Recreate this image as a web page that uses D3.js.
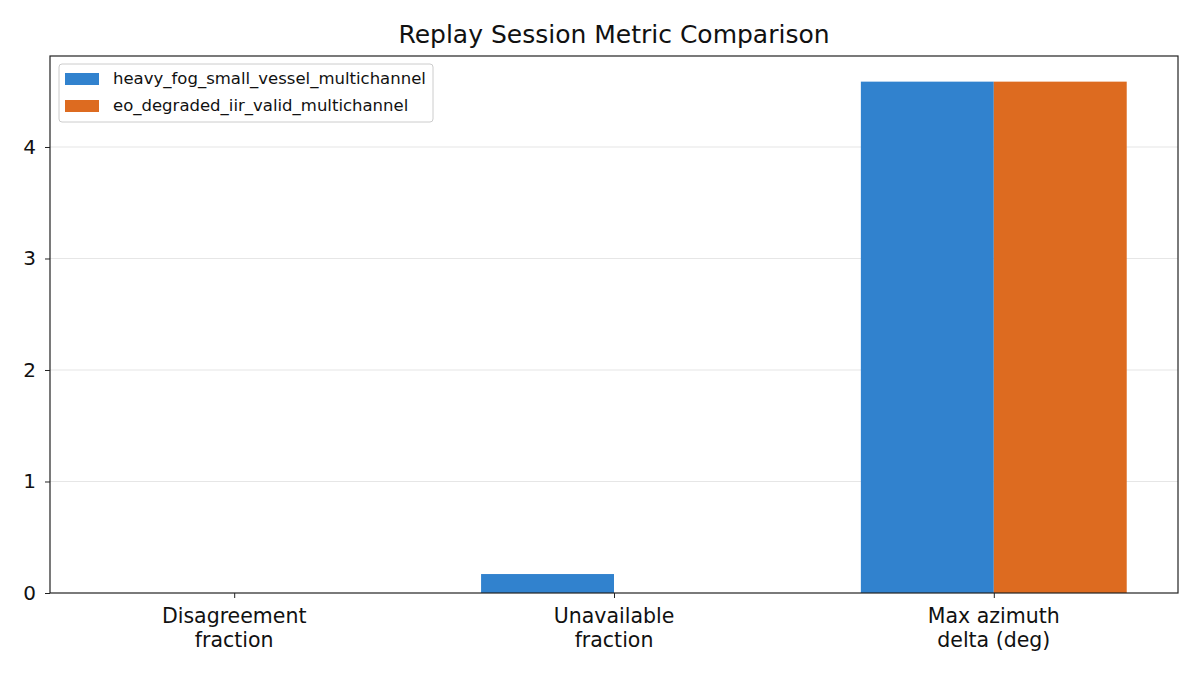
<!DOCTYPE html>
<html>
<head>
<meta charset="utf-8">
<script src="https://cdn.jsdelivr.net/npm/d3@7"></script>
<style>
  body { margin: 0; background: #fff; }
  svg { font-family: "DejaVu Sans", sans-serif; }
</style>
</head>
<body>
<div id="chart"></div>
<script>
// data
const categories = ["Disagreement\nfraction", "Unavailable\nfraction", "Max azimuth\ndelta (deg)"];
const seriesNames = ["heavy_fog_small_vessel_multichannel", "eo_degraded_iir_valid_multichannel"];
const heavyFogValues = [0, 0.17, 4.586];
const eoDegradedValues = [0, 0, 4.586];
const yTicks = [0, 1, 2, 3, 4];
const colors = ["#3182ce", "#dd6b20"];

const width = 1200, height = 675;
const margin = {left: 50, right: 22, top: 56, bottom: 82};
const barWidth = 0.35;

const svg = d3.select("#chart").append("svg")
    .attr("width", width)
    .attr("height", height);

// x in "bar units" like matplotlib: group i at i, bars offset +-width/2
const x = d3.scaleLinear()
    .domain([-0.485, 2.485])
    .range([margin.left, width - margin.right]);

const y = d3.scaleLinear()
    .domain([0, 4.816])
    .range([height - margin.bottom, margin.top]);

// grid
svg.append("g")
    .selectAll("line")
    .data(yTicks.filter(d => d > 0))
    .join("line")
    .attr("x1", margin.left)
    .attr("x2", width - margin.right)
    .attr("y1", d => y(d))
    .attr("y2", d => y(d))
    .attr("stroke", "#e6e6e6")
    .attr("stroke-width", 1.2);

// bars
const series = [heavyFogValues, eoDegradedValues];
series.forEach((vals, s) => {
    svg.append("g")
        .selectAll("rect")
        .data(vals)
        .join("rect")
        .attr("x", (d, i) => x(i + (s === 0 ? -barWidth : 0)))
        .attr("width", x(barWidth) - x(0))
        .attr("y", d => y(d))
        .attr("height", d => y(0) - y(d))
        .attr("fill", colors[s]);
});

// axes
const yAxis = svg.append("g")
    .attr("transform", `translate(${margin.left},0)`)
    .call(d3.axisLeft(y).tickValues(yTicks).tickSize(5).tickPadding(9).tickFormat(d3.format("d")));
yAxis.select(".domain").remove();
yAxis.selectAll("line").attr("stroke", "#222");
yAxis.selectAll("text").attr("font-size", 20).attr("fill", "#111")
    .attr("font-family", "DejaVu Sans");

const xAxis = svg.append("g")
    .attr("transform", `translate(0,${height - margin.bottom})`)
    .call(d3.axisBottom(x).tickValues([0, 1, 2]).tickSize(5).tickFormat(""));
xAxis.select(".domain").remove();
xAxis.selectAll("line").attr("stroke", "#222");

const labels = svg.append("g")
    .selectAll("text")
    .data(categories)
    .join("text")
    .attr("x", (d, i) => x(i))
    .attr("y", height - margin.bottom + 30)
    .attr("text-anchor", "middle")
    .attr("font-size", 20.5)
    .attr("fill", "#111");
labels.selectAll("tspan")
    .data(d => d.split("\n"))
    .join("tspan")
    .attr("x", function() { return d3.select(this.parentNode).attr("x"); })
    .attr("dy", (d, i) => i === 0 ? 0 : "1.15em")
    .text(d => d);

// frame
svg.append("rect")
    .attr("x", margin.left)
    .attr("y", margin.top)
    .attr("width", width - margin.left - margin.right)
    .attr("height", height - margin.top - margin.bottom)
    .attr("fill", "none")
    .attr("stroke", "#222")
    .attr("stroke-width", 1.2);

// title
svg.append("text")
    .attr("x", (margin.left + width - margin.right) / 2)
    .attr("y", 43)
    .attr("text-anchor", "middle")
    .attr("font-size", 25)
    .attr("fill", "#111")
    .text("Replay Session Metric Comparison");

// legend
const legend = svg.append("g").attr("transform", "translate(59,64)");
legend.append("rect")
    .attr("width", 374)
    .attr("height", 58)
    .attr("rx", 3)
    .attr("fill", "#fff")
    .attr("fill-opacity", 0.8)
    .attr("stroke", "#ccc");
const items = legend.selectAll("g.item")
    .data(seriesNames)
    .join("g")
    .attr("class", "item")
    .attr("transform", (d, i) => `translate(6,${9 + i * 27})`);
items.append("rect")
    .attr("width", 34)
    .attr("height", 12)
    .attr("fill", (d, i) => colors[i]);
items.append("text")
    .attr("x", 48)
    .attr("y", 11)
    .attr("font-size", 16.5)
    .attr("fill", "#111")
    .text(d => d);
</script>
</body>
</html>
